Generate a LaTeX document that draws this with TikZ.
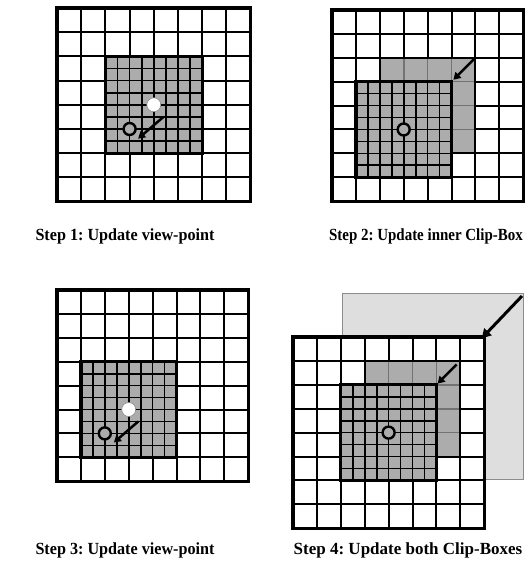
\documentclass[tikz,border=0pt]{standalone}
\usepackage{fontspec}
\setmainfont{Liberation Serif}
\usepackage{graphicx}
\usetikzlibrary{arrows.meta}
\definecolor{boxgray}{RGB}{172,172,172}
\definecolor{lightbox}{RGB}{222,222,222}
\tikzset{
  coarse/.style={line width=2pt,black},
  fine/.style={line width=1.7pt,black},
  oldline/.style={line width=1.6pt,black!55},
  inborder/.style={line width=3.2pt,black},
  outborder/.style={line width=3.3pt,black},
  arr/.style={line width=2.5pt,-{Triangle[length=7pt,width=8pt]}},
  bigarr/.style={line width=3pt,-{Triangle[length=9pt,width=10pt]}},
  vpold/.style={circle,fill=white,draw=black!45,line width=0.6pt,minimum size=14pt,inner sep=0pt},
  vpnew/.style={circle,draw=black,fill=boxgray,line width=2.4pt,minimum size=12pt,inner sep=0pt},
  lbl/.style={font=\frenchspacing\bfseries\fontsize{17}{20}\selectfont,inner sep=0pt,anchor=base},
  lightboxstyle/.style={fill=lightbox,draw=black!45,line width=0.8pt}
}
\newcommand\drawcoarsegrid{%
  \fill[white] (0,0) rectangle (8,8);
  \foreach \k in {1,...,7} {\draw[coarse] (\k,0) -- (\k,8); \draw[coarse] (0,\k) -- (8,\k);}}
\newcommand\drawinnerbox[2]{%
  \fill[boxgray] (#1,#2) rectangle ++(4,4);
  \foreach \k in {1,...,7} {%
    \pgfmathsetmacro\xx{#1+\k/2}\pgfmathsetmacro\yy{#2+\k/2}%
    \draw[fine] (\xx,#2) -- (\xx,#2+4);
    \draw[fine] (#1,\yy) -- (#1+4,\yy);}
  \draw[inborder] (#1,#2) rectangle ++(4,4);}
\newcommand\drawoldbox[2]{%
  \fill[boxgray] (#1,#2) rectangle ++(4,4);
  \foreach \k in {1,2,3} {%
    \pgfmathsetmacro\xx{#1+\k}\pgfmathsetmacro\yy{#2+\k}%
    \draw[oldline] (\xx,#2) -- (\xx,#2+4);
    \draw[oldline] (#1,\yy) -- (#1+4,\yy);}
  \draw[coarse] (#1,#2) rectangle ++(4,4);}
\newcommand\drawouterborder{\draw[outborder] (0,0) rectangle (8,8);}
\begin{document}
\begin{tikzpicture}[x=1pt,y=-1pt]
\useasboundingbox (0,0) rectangle (528,564);
\fill[white] (0,0) rectangle (528,564);

% ---------- Panel 1 ----------
\begin{scope}[shift={(57,8)},x=24.2pt,y=-24.2pt]
  \drawcoarsegrid
  \drawinnerbox{2}{2}
  \drawouterborder
  \node[vpold] (p1old) at (4,4) {};
  \node[vpnew] (p1new) at (3,5) {};
  \coordinate (p1s) at (4.4,4.5);
  \coordinate (p1e) at (3.35,5.4);
  \draw[arr] (p1s) -- (p1e);
\end{scope}

% ---------- Panel 2 ----------
\begin{scope}[shift={(332,10)},x=23.9pt,y=-23.9pt]
  \drawcoarsegrid
  \drawoldbox{2}{2}
  \drawinnerbox{1}{3}
  \drawouterborder
  \node[vpnew] (p2vp) at (3,5) {};
  \coordinate (p2s) at (6,2);
  \coordinate (p2e) at (5.08,2.92);
  \draw[arr] (p2s) -- (p2e);
\end{scope}

% ---------- Panel 3 ----------
\begin{scope}[shift={(57,290)},x=23.9pt,y=-23.9pt]
  \drawcoarsegrid
  \drawinnerbox{1}{3}
  \drawouterborder
  \node[vpold] (p3old) at (3,5) {};
  \node[vpnew] (p3new) at (2,6) {};
  \coordinate (p3s) at (3.4,5.5);
  \coordinate (p3e) at (2.38,6.38);
  \draw[arr] (p3s) -- (p3e);
\end{scope}

% ---------- Panel 4 ----------
\draw[lightboxstyle] (342,293) rectangle (523,479);
\begin{scope}[shift={(293,337)},x=23.9pt,y=-23.9pt]
  \drawcoarsegrid
  \drawoldbox{3}{1}
  \drawinnerbox{2}{2}
  \drawouterborder
  \node[vpnew] (p4vp) at (4,4) {};
  \coordinate (p4s) at (6.85,1.15);
  \coordinate (p4e) at (6.05,1.95);
  \draw[arr] (p4s) -- (p4e);
  \coordinate (p4gridcorner) at (7.9,0.05);
\end{scope}
\coordinate (p4bigs) at (522,296);
\draw[bigarr] (p4bigs) -- (p4gridcorner);

% ---------- Labels ----------
\node[lbl] (l1) at (125,240) {\scalebox{0.95}[1]{Step 1: Update view-point}};
\node[lbl,anchor=base east] (l2) at (523,240) {\scalebox{0.88}[1]{Step 2: Update inner Clip-Box}};
\node[lbl] (l3) at (125,554) {\scalebox{0.95}[1]{Step 3: Update view-point}};
\node[lbl] (l4) at (408,554) {\scalebox{1.0}[1]{Step 4: Update both Clip-Boxes}};
\end{tikzpicture}
\end{document}
